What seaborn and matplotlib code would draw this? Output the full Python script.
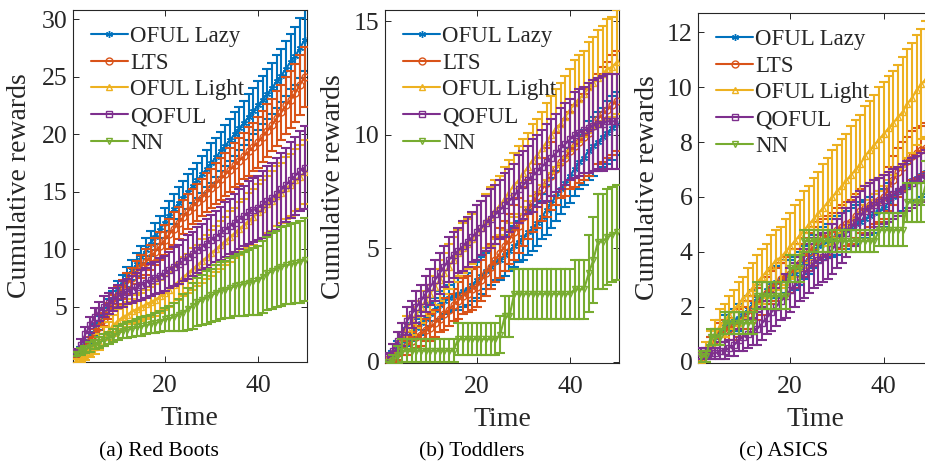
import numpy as np
import pandas as pd
import matplotlib
matplotlib.use("Agg")
import matplotlib.pyplot as plt
import seaborn as sns

# ---------------- data ----------------
time = list(range(1, 51))
series_names = ["OFUL Lazy", "LTS", "OFUL Light", "QOFUL", "NN"]
colors = ["#0072BD", "#D95319", "#EDB120", "#7E2F8E", "#77AC30"]
markers = [(6, 2, 0), "o", "^", "s", "v"]
captions = ["(a) Red Boots", "(b) Toddlers", "(c) ASICS"]

# (a) Red Boots
a_lazy = [0.8,1.2,1.7,2.3,3.0,3.6,4.3,5.0,5.7,6.4,7.0,7.6,8.2,8.7,9.3,9.9,10.5,11.1,11.7,12.3,12.9,13.5,14.0,14.5,15.0,15.5,16.0,16.5,17.0,17.5,18.0,18.5,19.0,19.5,20.0,20.5,21.0,21.5,22.0,22.5,23.0,23.5,24.0,24.6,25.1,25.7,26.3,26.8,27.5,28.2]
a_lazy_err = [0.2,0.3,0.4,0.5,0.5,0.6,0.6,0.7,0.7,0.8,0.8,0.9,0.9,1.0,1.0,1.1,1.1,1.2,1.2,1.3,1.3,1.3,1.4,1.4,1.5,1.5,1.5,1.6,1.6,1.7,1.7,1.7,1.8,1.8,1.9,1.9,1.9,2.0,2.0,2.1,2.1,2.2,2.2,2.3,2.3,2.4,2.4,2.5,2.6,2.7]
a_lts = [0.8,1.1,1.5,2.0,2.6,3.2,3.9,4.6,5.3,6.0,6.5,7.0,7.5,8.0,8.5,8.9,9.3,9.8,10.3,10.8,11.3,11.8,12.3,12.8,13.3,13.7,14.1,14.5,14.9,15.3,15.7,16.1,16.5,16.9,17.3,17.7,18.1,18.5,18.9,19.3,19.8,20.3,20.8,21.4,21.9,22.5,23.0,23.6,24.3,25.0]
a_lts_err = [0.2,0.3,0.4,0.4,0.5,0.6,0.6,0.7,0.7,0.8,0.8,0.9,0.9,1.0,1.0,1.1,1.1,1.2,1.2,1.3,1.3,1.4,1.4,1.5,1.5,1.5,1.6,1.6,1.7,1.7,1.8,1.8,1.9,1.9,1.9,2.0,2.0,2.1,2.1,2.2,2.2,2.3,2.3,2.4,2.4,2.5,2.5,2.5,2.6,2.6]
a_light = [0.3,0.5,0.8,1.1,1.5,1.9,2.4,2.9,3.4,3.8,4.1,4.3,4.6,4.8,5.0,5.2,5.4,5.6,5.9,6.2,6.5,6.9,7.2,7.6,7.9,8.3,8.6,9.0,9.3,9.7,10.0,10.4,10.7,11.1,11.4,11.8,12.1,12.5,12.8,13.2,13.5,13.9,14.2,14.6,14.9,15.3,15.6,16.0,16.3,16.7]
a_light_err = [0.2,0.3,0.4,0.5,0.6,0.7,0.8,0.8,0.9,1.0,1.0,1.1,1.1,1.2,1.2,1.3,1.3,1.4,1.4,1.5,1.5,1.6,1.6,1.7,1.7,1.8,1.8,1.9,1.9,2.0,2.0,2.1,2.1,2.2,2.2,2.3,2.3,2.4,2.4,2.5,2.5,2.5,2.6,2.6,2.6,2.7,2.7,2.7,2.8,2.8]
a_qoful = [1.0,1.7,2.6,3.4,4.1,4.6,5.0,5.3,5.6,5.9,6.1,6.3,6.5,6.7,6.9,7.1,7.3,7.5,7.7,7.9,8.2,8.5,8.7,9.0,9.3,9.6,9.9,10.2,10.5,10.8,11.1,11.4,11.7,12.0,12.3,12.6,12.9,13.2,13.4,13.6,13.9,14.2,14.5,14.8,15.2,15.6,16.0,16.4,16.8,17.1]
a_qoful_err = [0.3,0.5,0.6,0.7,0.8,0.8,0.9,0.9,1.0,1.0,1.1,1.1,1.2,1.2,1.3,1.3,1.4,1.4,1.5,1.5,1.6,1.7,1.7,1.8,1.9,1.9,2.0,2.0,2.1,2.2,2.2,2.3,2.4,2.4,2.5,2.6,2.6,2.7,2.8,2.8,2.9,3.0,3.0,3.1,3.2,3.2,3.3,3.4,3.5,3.6]
a_nn = [0.9,1.1,1.3,1.5,1.7,1.9,2.1,2.3,2.5,2.7,2.9,3.0,3.1,3.2,3.3,3.4,3.5,3.6,3.7,3.9,4.0,4.1,4.3,4.5,4.8,5.1,5.4,5.6,5.8,6.0,6.2,6.4,6.5,6.6,6.8,6.9,7.0,7.1,7.2,7.3,7.6,7.9,8.1,8.3,8.5,8.6,8.7,8.8,8.9,9.1]
a_nn_err = [0.2,0.3,0.3,0.4,0.4,0.5,0.5,0.5,0.6,0.6,0.6,0.7,0.7,0.7,0.8,0.8,0.8,0.9,0.9,1.0,1.1,1.2,1.4,1.6,1.8,2.0,2.1,2.2,2.3,2.3,2.4,2.5,2.5,2.6,2.6,2.7,2.8,2.8,2.9,3.0,3.1,3.2,3.3,3.3,3.4,3.4,3.5,3.5,3.6,3.6]

# (b) Toddlers
b_lazy = [0.1,0.3,0.6,0.9,1.1,1.3,1.5,1.7,1.9,2.1,2.3,2.5,2.7,2.8,2.9,3.0,3.1,3.2,3.4,3.6,3.8,4.0,4.2,4.4,4.5,4.7,4.9,5.1,5.3,5.5,5.7,5.9,6.1,6.4,6.7,7.0,7.3,7.6,7.9,8.2,8.5,8.8,9.0,9.3,9.5,9.7,9.9,10.1,10.3,10.5]
b_lazy_err = [0.1,0.2,0.3,0.3,0.4,0.4,0.4,0.5,0.5,0.5,0.5,0.6,0.6,0.6,0.6,0.7,0.7,0.7,0.7,0.8,0.8,0.8,0.8,0.8,0.9,0.9,0.9,0.9,0.9,1.0,1.0,1.0,1.0,1.0,1.1,1.1,1.1,1.1,1.1,1.2,1.2,1.2,1.2,1.3,1.3,1.3,1.3,1.4,1.4,1.4]
b_lts = [0.1,0.2,0.4,0.6,0.7,0.9,1.1,1.2,1.4,1.5,1.7,1.9,2.1,2.3,2.5,2.7,2.9,3.0,3.2,3.3,3.6,3.9,4.2,4.5,4.8,5.1,5.4,5.7,6.0,6.4,6.7,7.0,7.3,7.6,7.9,8.2,8.5,8.8,9.0,9.3,9.5,9.7,9.9,10.1,10.4,10.7,10.9,11.1,11.3,11.5]
b_lts_err = [0.1,0.2,0.3,0.3,0.4,0.4,0.5,0.5,0.5,0.6,0.6,0.6,0.7,0.7,0.7,0.8,0.8,0.8,0.9,0.9,0.9,1.0,1.0,1.0,1.1,1.1,1.1,1.2,1.2,1.3,1.3,1.3,1.4,1.4,1.5,1.5,1.6,1.6,1.7,1.7,1.8,1.8,1.9,1.9,2.0,2.0,2.1,2.1,2.2,2.2]
b_light = [0.2,0.5,0.9,1.2,1.5,1.8,2.1,2.4,2.7,3.0,3.3,3.6,3.9,4.2,4.5,4.8,5.0,5.2,5.4,5.7,5.9,6.2,6.4,6.7,6.9,7.2,7.5,7.8,8.0,8.3,8.6,8.9,9.1,9.4,9.7,10.0,10.3,10.5,10.8,11.1,11.4,11.6,11.8,12.1,12.3,12.5,12.7,12.9,13.0,13.2]
b_light_err = [0.2,0.3,0.4,0.5,0.5,0.6,0.6,0.7,0.7,0.8,0.8,0.9,0.9,1.0,1.0,1.0,1.1,1.1,1.1,1.2,1.2,1.2,1.3,1.3,1.3,1.4,1.4,1.4,1.5,1.5,1.5,1.6,1.6,1.6,1.7,1.7,1.7,1.8,1.8,1.8,1.9,1.9,1.9,2.0,2.0,2.1,2.1,2.2,2.2,2.3]
b_qoful = [0.2,0.5,0.9,1.2,1.8,2.1,2.4,2.7,3.0,3.3,3.6,3.9,4.2,4.5,4.7,4.9,5.1,5.3,5.5,5.7,5.9,6.1,6.3,6.5,6.7,6.9,7.1,7.3,7.6,7.8,8.0,8.2,8.4,8.6,8.8,9.0,9.2,9.4,9.6,9.8,10.0,10.1,10.2,10.3,10.4,10.5,10.5,10.6,10.6,10.6]
b_qoful_err = [0.2,0.3,0.4,0.5,0.6,0.6,0.7,0.7,0.8,0.8,0.9,0.9,0.9,1.0,1.0,1.0,1.1,1.1,1.1,1.2,1.2,1.2,1.3,1.3,1.3,1.4,1.4,1.4,1.5,1.5,1.5,1.6,1.6,1.6,1.7,1.7,1.7,1.8,1.8,1.8,1.9,1.9,1.9,2.0,2.0,2.0,2.1,2.1,2.1,2.1]
b_nn = [0.0,0.1,0.3,0.5,0.5,0.5,0.5,0.5,0.5,0.5,0.5,0.5,0.5,0.5,0.5,1.0,1.0,1.0,1.0,1.0,1.0,1.0,1.0,1.0,1.2,2.0,2.0,3.0,3.0,3.0,3.0,3.0,3.0,3.0,3.0,3.0,3.0,3.0,3.0,3.0,3.2,3.2,3.2,3.9,4.5,5.3,5.3,5.5,5.6,5.7]
b_nn_err = [0.0,0.2,0.4,0.5,0.5,0.5,0.5,0.5,0.5,0.5,0.5,0.5,0.5,0.5,0.5,0.7,0.7,0.7,0.7,0.7,0.7,0.7,0.7,0.7,0.8,0.9,0.9,1.1,1.1,1.1,1.1,1.1,1.1,1.1,1.1,1.1,1.1,1.1,1.1,1.1,1.3,1.3,1.3,1.7,1.9,2.1,2.1,2.1,2.1,2.1]

# (c) ASICS
c_lazy = [0.0,0.2,0.6,0.9,1.1,1.3,1.4,1.5,1.6,1.7,1.9,2.1,2.3,2.4,2.6,2.8,2.9,3.0,3.1,3.1,3.2,3.4,3.6,3.8,4.0,4.2,4.3,4.4,4.5,4.6,4.7,4.8,4.9,5.0,5.1,5.2,5.3,5.4,5.5,5.6,5.8,6.0,6.2,6.3,6.4,6.6,6.7,6.8,6.9,7.0]
c_lazy_err = [0.1,0.2,0.3,0.3,0.4,0.4,0.4,0.4,0.5,0.5,0.5,0.5,0.5,0.5,0.5,0.6,0.6,0.6,0.6,0.6,0.6,0.6,0.6,0.6,0.6,0.6,0.6,0.6,0.7,0.7,0.7,0.7,0.7,0.7,0.7,0.7,0.7,0.7,0.7,0.7,0.7,0.8,0.8,0.8,0.8,0.8,0.8,0.8,0.8,0.8]
c_lts = [0.0,0.3,0.6,0.8,1.0,1.1,1.2,1.3,1.4,1.5,1.7,1.9,2.1,2.3,2.5,2.7,2.8,3.0,3.1,3.2,3.4,3.6,3.8,4.0,4.2,4.4,4.5,4.6,4.7,4.8,4.9,5.0,5.1,5.3,5.5,5.6,5.7,5.8,5.9,6.0,6.3,6.6,6.9,7.1,7.3,7.5,7.6,7.7,7.8,7.8]
c_lts_err = [0.1,0.2,0.3,0.3,0.4,0.4,0.4,0.5,0.5,0.5,0.5,0.5,0.6,0.6,0.6,0.6,0.6,0.6,0.7,0.7,0.7,0.7,0.7,0.7,0.7,0.7,0.7,0.7,0.7,0.8,0.8,0.8,0.8,0.8,0.8,0.8,0.8,0.8,0.8,0.8,0.8,0.9,0.9,0.9,0.9,0.9,0.9,0.9,0.9,0.9]
c_light = [0.1,0.4,0.7,1.0,1.3,1.5,1.7,1.9,2.1,2.3,2.5,2.7,2.9,3.1,3.3,3.5,3.7,3.8,4.0,4.2,4.4,4.6,4.8,5.0,5.2,5.4,5.6,5.8,6.0,6.2,6.4,6.6,6.8,7.0,7.2,7.5,7.7,7.9,8.1,8.3,8.5,8.7,8.9,9.1,9.4,9.6,9.9,10.1,10.3,10.5]
c_light_err = [0.2,0.3,0.4,0.5,0.6,0.6,0.7,0.7,0.8,0.8,0.9,0.9,1.0,1.0,1.0,1.1,1.1,1.1,1.2,1.2,1.3,1.3,1.4,1.4,1.5,1.5,1.6,1.6,1.7,1.7,1.7,1.7,1.8,1.8,1.8,1.8,1.8,1.8,1.9,1.9,1.9,1.9,1.9,2.0,2.0,2.0,2.0,2.0,2.1,2.1]
c_qoful = [0.3,0.3,0.3,0.3,0.4,0.4,0.5,0.6,0.8,0.9,1.0,1.1,1.2,1.4,1.6,1.8,2.0,2.2,2.4,2.6,2.8,3.0,3.2,3.4,3.6,3.7,3.8,3.9,4.1,4.3,4.5,4.7,4.9,5.1,5.3,5.5,5.6,5.7,5.8,5.9,6.0,6.1,6.2,6.3,6.4,6.5,6.6,6.7,6.8,6.9]
c_qoful_err = [0.2,0.2,0.2,0.2,0.3,0.3,0.3,0.4,0.4,0.5,0.5,0.5,0.6,0.6,0.6,0.7,0.7,0.7,0.8,0.8,0.8,0.8,0.9,0.9,0.9,0.9,0.9,0.9,0.9,0.9,0.9,0.9,0.9,0.9,0.9,0.9,0.9,0.9,0.9,0.9,0.9,0.9,0.9,0.9,0.9,0.9,0.9,0.9,0.9,0.9]
c_nn = [0.2,0.2,0.9,0.9,0.9,1.4,1.4,1.4,1.4,1.4,1.4,1.4,2.4,2.4,2.4,2.4,2.4,2.4,2.4,3.4,3.4,3.4,4.4,4.4,4.4,4.4,4.4,4.4,4.4,4.4,4.4,4.4,4.4,4.4,4.4,4.4,4.4,4.4,4.8,4.8,4.8,4.8,4.8,4.8,5.8,5.8,5.8,5.8,6.5,6.5]
c_nn_err = [0.2,0.2,0.3,0.3,0.3,0.4,0.4,0.4,0.4,0.4,0.4,0.4,0.5,0.5,0.5,0.5,0.5,0.5,0.5,0.5,0.5,0.5,0.4,0.4,0.4,0.4,0.4,0.4,0.4,0.4,0.4,0.4,0.4,0.4,0.4,0.4,0.4,0.4,0.6,0.6,0.6,0.6,0.6,0.6,0.7,0.7,0.7,0.7,0.8,0.8]

y_ticks = [[5, 10, 15, 20, 25, 30], [0, 5, 10, 15], [0, 2, 4, 6, 8, 10, 12]]
y_lims = [(0.2, 30.8), (-0.05, 15.5), (-0.05, 12.7)]
x_ticks = [20, 40]

panels = [
    [(a_lazy, a_lazy_err), (a_lts, a_lts_err), (a_light, a_light_err), (a_qoful, a_qoful_err), (a_nn, a_nn_err)],
    [(b_lazy, b_lazy_err), (b_lts, b_lts_err), (b_light, b_light_err), (b_qoful, b_qoful_err), (b_nn, b_nn_err)],
    [(c_lazy, c_lazy_err), (c_lts, c_lts_err), (c_light, c_light_err), (c_qoful, c_qoful_err), (c_nn, c_nn_err)],
]

# ---------------- style ----------------
sns.set_style("ticks")
plt.rcParams["font.family"] = ["Liberation Serif", "DejaVu Serif"]
plt.rcParams["mathtext.fontset"] = "stix"
axc = "#262626"

fig = plt.figure(figsize=(9.25, 4.63), dpi=100)
W, H = 925, 463
ax_boxes = [(72.7, 10, 307, 362), (385, 10, 619, 363), (698, 13, 933, 363)]
ylabel_x = [20, 333, 647]
caption_x = [159, 472, 784]

for p, (box, data) in enumerate(zip(ax_boxes, panels)):
    l, t, r, b = box
    ax = fig.add_axes([l / W, 1 - b / H, (r - l) / W, (b - t) / H])
    handles = []
    for i, ((vals, errs), name, c, m) in enumerate(zip(data, series_names, colors, markers)):
        z = 2 + i
        ax.errorbar(time, vals, yerr=errs, fmt="none", ecolor=c, elinewidth=1.5,
                    capsize=3.3, capthick=1.5, zorder=z)
        df = pd.DataFrame({"Time": time, "v": vals})
        sns.lineplot(data=df, x="Time", y="v", ax=ax, color=c, marker=m, markersize=5,
                     markerfacecolor="none", markeredgecolor=c, markeredgewidth=1.0,
                     linewidth=1.5, zorder=z + 0.5, label=name, legend=False)
        handles.append(ax.lines[-1])
    ax.set_xlim(0.3, 50.5)
    ax.set_ylim(*y_lims[p])
    ax.set_xticks(x_ticks)
    ax.set_yticks(y_ticks[p])
    ax.tick_params(direction="in", top=True, right=True, length=4, width=0.7,
                   labelsize=18.5, colors=axc, pad=4)
    ax.tick_params(axis="x", pad=9.5)
    for s in ax.spines.values():
        s.set_color(axc)
        s.set_linewidth(0.8)
    ax.set_xlabel("Time", fontsize=20, color=axc, labelpad=6)
    ax.set_ylabel("")
    fig.text(ylabel_x[p] / W, 1 - ((t + b) / 2) / H, "Cumulative rewards", rotation=90,
             fontsize=20, color=axc, ha="center", va="center")
    fig.text(caption_x[p] / W, 1 - 452 / H, captions[p], fontsize=15.5, color="black",
             ha="center", va="center")
    leg = ax.legend(handles, series_names, loc="upper left", bbox_to_anchor=(0.02, 0.994),
                    frameon=False, fontsize=16.5, handlelength=1.6, handletextpad=0.1,
                    labelspacing=0.25, borderpad=0.6, borderaxespad=0.0)
    for txt in leg.get_texts():
        txt.set_color(axc)

fig.savefig("out.png", dpi=100)
